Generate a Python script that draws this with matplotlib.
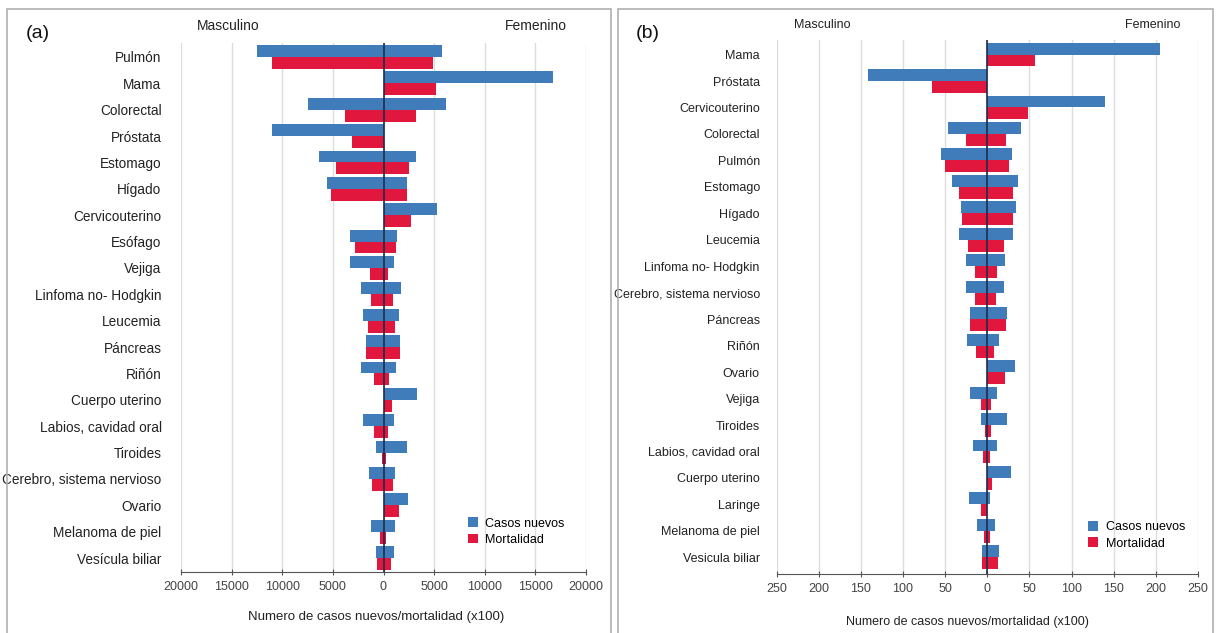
import matplotlib
matplotlib.use("Agg")
import matplotlib.pyplot as plt
from matplotlib.patches import Rectangle
import numpy as np

plt.rcParams['font.family'] = ['Liberation Sans', 'DejaVu Sans']

# Panel (a): cases (x100), male / female
cats_a = ['Pulmón', 'Mama', 'Colorectal', 'Próstata', 'Estomago', 'Hígado',
          'Cervicouterino', 'Esófago', 'Vejiga', 'Linfoma no- Hodgkin', 'Leucemia',
          'Páncreas', 'Riñón', 'Cuerpo uterino', 'Labios, cavidad oral', 'Tiroides',
          'Cerebro, sistema nervioso', 'Ovario', 'Melanoma de piel', 'Vesícula biliar']
casos_masc_a = [12500, 0, 7500, 11000, 6400, 5600, 0, 3300, 3300, 2200, 2000,
                1700, 2200, 0, 2000, 700, 1400, 0, 1250, 750]
casos_fem_a = [5800, 16700, 6200, 0, 3200, 2300, 5300, 1300, 1000, 1700, 1500,
               1600, 1200, 3300, 1050, 2300, 1100, 2400, 1150, 1050]
mort_masc_a = [11000, 0, 3800, 3100, 4700, 5200, 0, 2800, 1300, 1200, 1500,
               1700, 900, 0, 950, 100, 1100, 0, 350, 600]
mort_fem_a = [4900, 5200, 3200, 0, 2500, 2300, 2700, 1200, 400, 900, 1150,
              1600, 550, 800, 450, 250, 900, 1500, 250, 750]
ticks_a = [-20000, -15000, -10000, -5000, 0, 5000, 10000, 15000, 20000]

# Panel (b)
cats_b = ['Mama', 'Próstata', 'Cervicouterino', 'Colorectal', 'Pulmón', 'Estomago',
          'Hígado', 'Leucemia', 'Linfoma no- Hodgkin', 'Cerebro, sistema nervioso',
          'Páncreas', 'Riñón', 'Ovario', 'Vejiga', 'Tiroides', 'Labios, cavidad oral',
          'Cuerpo uterino', 'Laringe', 'Melanoma de piel', 'Vesicula biliar']
casos_masc_b = [0, 141, 0, 47, 55, 42, 31, 34, 25, 25, 20, 24, 0, 21, 8, 17, 0, 22, 12, 6]
casos_fem_b = [205, 0, 140, 40, 29, 36, 34, 30, 21, 20, 23, 14, 33, 12, 23, 12, 28, 3, 9, 14]
mort_masc_b = [0, 65, 0, 25, 50, 34, 30, 23, 15, 14, 20, 13, 0, 8, 3, 5, 0, 8, 4, 6]
mort_fem_b = [57, 0, 48, 22, 26, 30, 31, 20, 12, 10, 22, 8, 21, 5, 5, 3, 6, 0, 3, 13]
ticks_b = [-250, -200, -150, -100, -50, 0, 50, 100, 150, 200, 250]

BLUE = '#3f7cb9'
RED = '#e2173d'
W, H = 1218, 633

fig = plt.figure(figsize=(W / 100, H / 100), dpi=100)


def px_axes(x0, x1, y0, y1):
    return fig.add_axes([x0 / W, (H - y1) / H, (x1 - x0) / W, (y1 - y0) / H])


def pyramid(ax, cats, cm, cf, mm, mf, ticks, ylim, label_pad, label_size, leg_xy):
    y = np.arange(len(cats))
    h = 0.45
    ax.barh(y - h / 2, -np.array(cm), height=h, color=BLUE, label='Casos nuevos')
    ax.barh(y - h / 2, cf, height=h, color=BLUE)
    ax.barh(y + h / 2, -np.array(mm), height=h, color=RED, label='Mortalidad')
    ax.barh(y + h / 2, mf, height=h, color=RED)
    ax.axvline(0, color='#1d2d4a', lw=1.2, zorder=5)
    ax.set_xlim(ticks[0], ticks[-1])
    ax.set_ylim(*ylim)
    ax.set_yticks(y)
    ax.set_yticklabels(cats, fontsize=label_size, color='#222222')
    ax.tick_params(axis='y', length=0, pad=label_pad)
    ax.set_xticks(ticks)
    ax.set_xticklabels([str(abs(t)) for t in ticks], fontsize=9, color='#444444')
    ax.tick_params(axis='x', direction='inout', length=5, color='#555555', pad=4)
    ax.grid(axis='x', color='#dddddd', lw=1)
    ax.set_axisbelow(True)
    for s in ['top', 'right', 'left']:
        ax.spines[s].set_visible(False)
    ax.spines['bottom'].set_color('#555555')
    ax.legend(loc='upper left', bbox_to_anchor=leg_xy, frameon=False, borderpad=0,
              fontsize=9, handlelength=0.8, handleheight=0.8, handletextpad=0.6,
              labelspacing=0.35)


# panel frames
for x0, x1 in [(7, 611), (618, 1213)]:
    fig.patches.append(Rectangle((x0 / W, -0.05), (x1 - x0) / W, (H - 9) / H + 0.05,
                                 transform=fig.transFigure, fill=False,
                                 edgecolor='#b0b0b0', lw=1.2))

ax_a = px_axes(181, 586, 43, 572)
pyramid(ax_a, cats_a, casos_masc_a, casos_fem_a, mort_masc_a, mort_fem_a,
        ticks_a, (19.53, -0.53), 14, 9.8, (0.692, 0.115))

ax_b = px_axes(776.5, 1198, 40, 574)
pyramid(ax_b, cats_b, casos_masc_b, casos_fem_b, mort_masc_b, mort_fem_b,
        ticks_b, (19.63, -0.55), 12, 9, (0.725, 0.111))

xlab = 'Numero de casos nuevos/mortalidad (x100)'
fig.text(376 / W, 1 - 617 / H, xlab, fontsize=9.5, ha='center', va='center',
         color='#222222')
fig.text(967 / W, 1 - 622 / H, xlab, fontsize=9, ha='center', va='center',
         color='#222222')

fig.text(38 / W, 1 - 33 / H, '(a)', fontsize=14, ha='center', va='center',
         color='#111111')
fig.text(648 / W, 1 - 33 / H, '(b)', fontsize=14, ha='center', va='center',
         color='#111111')
fig.text(228 / W, 1 - 26 / H, 'Masculino', fontsize=10, ha='center', va='center',
         color='#222222')
fig.text(536 / W, 1 - 26 / H, 'Femenino', fontsize=10, ha='center', va='center',
         color='#222222')
fig.text(822 / W, 1 - 25 / H, 'Masculino', fontsize=9, ha='center', va='center',
         color='#222222')
fig.text(1153 / W, 1 - 25 / H, 'Femenino', fontsize=9, ha='center', va='center',
         color='#222222')

fig.savefig('out.png', dpi=100)
